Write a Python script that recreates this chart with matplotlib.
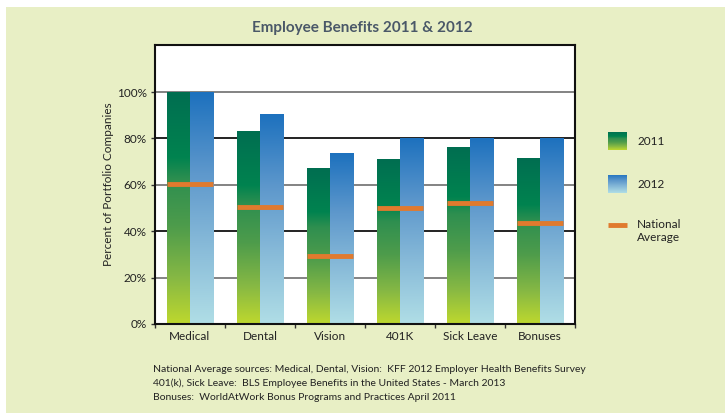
import numpy as np
import matplotlib
matplotlib.use('Agg')
import matplotlib.pyplot as plt
from matplotlib.colors import LinearSegmentedColormap
from matplotlib.patches import Rectangle

plt.rcParams['font.family'] = ['Lato', 'DejaVu Sans']

# Dados
categorias = ['Medical', 'Dental', 'Vision', '401K', 'Sick Leave', 'Bonuses']
ano_2011 = [100, 83, 67, 71, 76, 71.5]
ano_2012 = [100, 90.5, 73.5, 80, 80, 80]
media_nacional = [60.5, 50.5, 29.5, 50, 52, 43.5]
y_ticks = [0, 20, 40, 60, 80, 100]
y_labels = ['0%', '20%', '40%', '60%', '80%', '100%']
fontes = ['National Average sources: Medical, Dental, Vision:  KFF 2012 Employer Health Benefits Survey',
          '401(k), Sick Leave:  BLS Employee Benefits in the United States - March 2013',
          'Bonuses:  WorldAtWork Bonus Programs and Practices April 2011']

BG = '#E8EFC5'
verde = LinearSegmentedColormap.from_list('verde', [
    (0.0, '#BED82E'), (0.2, '#86B844'), (0.42, '#4E9C4B'),
    (0.62, '#2F8F50'), (0.72, '#00834F'), (1.0, '#006E51')])
azul = LinearSegmentedColormap.from_list('azul', [
    (0.0, '#B0DEE6'), (0.35, '#86B9D8'), (0.65, '#5E98CC'), (1.0, '#1D71BE')])
grad = np.linspace(0, 1, 256).reshape(-1, 1)

fig = plt.figure(figsize=(7.25, 4.13), dpi=100, facecolor='white')
fig.patches.append(Rectangle((6 / 725, 0), 1, 1 - 7 / 413, transform=fig.transFigure,
                             facecolor=BG, edgecolor='none', zorder=-10))

ax = fig.add_axes([155 / 725, 1 - 324 / 413, 420 / 725, 279.5 / 413])
ax.set_facecolor('white')

# Linhas de grade alternadas
for v, cor in zip([20, 40, 60, 80, 100], ['#7a7a7a', '#111111', '#7a7a7a', '#111111', '#7a7a7a']):
    ax.axhline(v, color=cor, linewidth=1.3, zorder=1)

w = 0.33
x = np.arange(len(categorias))
for i in x:
    x0 = i - w
    ax.imshow(grad, cmap=verde, origin='lower', aspect='auto',
              extent=[x0, i, 0, ano_2011[i]], zorder=2, interpolation='bilinear')
    ax.imshow(grad, cmap=azul, origin='lower', aspect='auto',
              extent=[i, i + w, 0, ano_2012[i]], zorder=2, interpolation='bilinear')
    ax.plot([x0, i + w], [media_nacional[i]] * 2, color='#E07A2E',
            linewidth=3.5, solid_capstyle='butt', zorder=3)
ax.set_xlim(-0.5, 5.5)
ax.set_ylim(0, 120.5)

ax.set_xticks(x)
ax.set_xticklabels(categorias, fontsize=8.5, color='#222222')
ax.set_xticks(np.arange(-0.5, 6, 1), minor=True)
ax.tick_params(axis='x', which='major', length=0, pad=5)
ax.tick_params(axis='x', which='minor', length=3, width=1, color='#333333')
ax.set_yticks(y_ticks)
ax.set_yticklabels(y_labels, fontsize=8.5, color='#222222')
ax.tick_params(axis='y', length=3, width=1, color='#333333', pad=3)
for s in ax.spines.values():
    s.set_linewidth(1.5)
    s.set_color('#111111')
ax.set_ylabel('Percent of Portfolio Companies', fontsize=8.5, color='#222222', labelpad=2)

fig.text(362 / 725, 1 - 28 / 413, 'Employee Benefits 2011 & 2012', ha='center', va='center',
         fontsize=11, fontweight='bold', color='#4A5868')

# Legenda manual
for y0, cmap, rot in [(132, verde, '2011'), (175, azul, '2012')]:
    lax = fig.add_axes([608 / 725, 1 - (y0 + 18.5) / 413, 19 / 725, 18.5 / 413])
    lax.imshow(grad, cmap=cmap, origin='lower', aspect='auto', interpolation='bilinear')
    lax.axis('off')
    fig.text(637 / 725, 1 - (y0 + 9.5) / 413, rot, fontsize=8.5, va='center', color='#222222')
fig.add_artist(plt.Line2D([608 / 725, 627 / 725], [1 - 225 / 413] * 2, color='#E07A2E',
                          linewidth=3.5, solid_capstyle='butt', transform=fig.transFigure))
fig.text(637 / 725, 1 - 231 / 413, 'National\nAverage', fontsize=8.5, va='center',
         color='#222222', linespacing=1.25)

for k, linha in enumerate(fontes):
    fig.text(153 / 725, 1 - (369 + 14 * k) / 413, linha, fontsize=7.5, va='center', color='#222222')

plt.savefig('out.png', dpi=100, facecolor=fig.get_facecolor())
